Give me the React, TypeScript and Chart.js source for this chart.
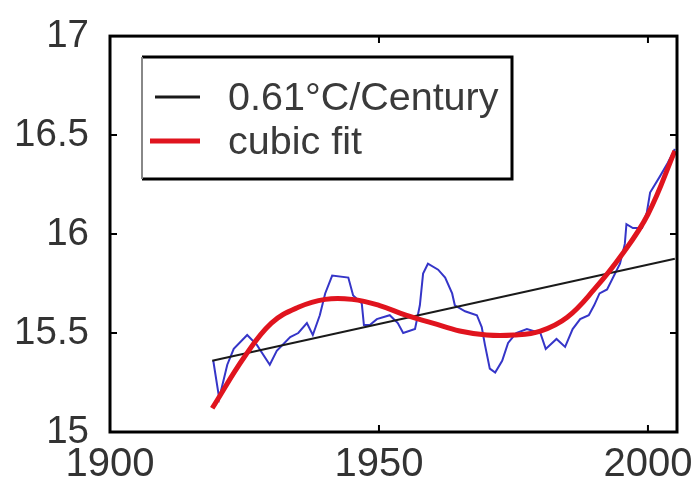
import React, { useEffect, useRef } from "react";
import { Chart, registerables } from "chart.js";

Chart.register(...registerables);

const xTickValues = [1900, 1950, 2000];
const yTickValues = [15, 15.5, 16, 16.5, 17];

const blueYears = [
  1919.2, 1920.3, 1921.8, 1923.0, 1925.5, 1927.3, 1929.7, 1931.0, 1933.5, 1935.0,
  1936.6, 1937.7, 1939.0, 1940.0, 1941.3, 1944.3, 1945.2, 1946.8, 1947.2, 1948.3,
  1949.6, 1952.0, 1953.5, 1954.5, 1956.7, 1957.6, 1958.2, 1959.1, 1961.0, 1962.3,
  1963.6, 1964.1, 1966.0, 1968.2, 1969.1, 1969.7, 1970.6, 1971.6, 1972.9, 1974.0,
  1975.5, 1977.5, 1980.0, 1981.0, 1983.0, 1984.6, 1986.0, 1987.4, 1989.0, 1990.0,
  1991.0, 1992.4, 1994.8, 1995.7, 1996.0, 1997.2, 1998.9, 1999.8, 2000.4, 2002.2,
  2003.7, 2005.0,
];
const blueTemps = [
  15.36, 15.17, 15.34, 15.42, 15.49, 15.44, 15.34, 15.41, 15.48, 15.5,
  15.55, 15.49, 15.59, 15.7, 15.79, 15.78, 15.69, 15.65, 15.54, 15.54,
  15.57, 15.59, 15.55, 15.5, 15.52, 15.64, 15.8, 15.85, 15.82, 15.78,
  15.7, 15.64, 15.61, 15.59, 15.53, 15.44, 15.32, 15.3, 15.36, 15.45,
  15.5, 15.52, 15.5, 15.42, 15.47, 15.43, 15.52, 15.57, 15.59, 15.64,
  15.7, 15.72, 15.85, 15.95, 16.05, 16.03, 16.03, 16.11, 16.21, 16.29,
  16.36, 16.43,
];

const trendLabel = "0.61\u00B0C/Century";
const trendYears = [1919, 2005];
const trendTemps = [15.36, 15.875];

const cubicLabel = "cubic fit";
const cubicYears = [
  1919, 1925, 1930, 1935, 1940, 1945, 1950, 1955, 1960, 1965, 1970, 1975,
  1980, 1985, 1990, 1995, 2000, 2005,
];
const cubicTemps = [
  15.12, 15.38, 15.55, 15.63, 15.67, 15.67, 15.64, 15.59, 15.55, 15.51, 15.49,
  15.49, 15.51, 15.58, 15.72, 15.89, 16.1, 16.42,
];

const FONT = "'Liberation Sans', Arial, sans-serif";

const framePlugin = {
  id: "frameLegend",
  afterDraw(chart: any) {
    const ctx = chart.ctx;
    const { left, right, top, bottom } = chart.chartArea;
    const xs = chart.scales.x;
    const ys = chart.scales.y;
    ctx.save();
    // frame
    ctx.strokeStyle = "#000";
    ctx.lineWidth = 3;
    ctx.strokeRect(left, top, right - left, bottom - top);
    // inner ticks
    ctx.lineWidth = 2;
    const tl = 7;
    yTickValues.slice(1, -1).forEach((v) => {
      const y = ys.getPixelForValue(v);
      ctx.beginPath();
      ctx.moveTo(left, y);
      ctx.lineTo(left + tl, y);
      ctx.moveTo(right, y);
      ctx.lineTo(right - tl, y);
      ctx.stroke();
    });
    xTickValues.slice(1).forEach((v) => {
      const x = xs.getPixelForValue(v);
      ctx.beginPath();
      ctx.moveTo(x, bottom);
      ctx.lineTo(x, bottom - tl);
      ctx.moveTo(x, top);
      ctx.lineTo(x, top + tl);
      ctx.stroke();
    });
    // legend
    const bx = left + 32;
    const by = top + 21;
    const bw = 370;
    const bh = 122;
    ctx.fillStyle = "#fff";
    ctx.fillRect(bx, by, bw, bh);
    ctx.strokeStyle = "#000";
    ctx.lineWidth = 3;
    ctx.beginPath();
    ctx.moveTo(bx, by);
    ctx.lineTo(bx + bw, by);
    ctx.lineTo(bx + bw, by + bh);
    ctx.lineTo(bx, by + bh);
    ctx.stroke();
    ctx.strokeStyle = "#888";
    ctx.lineWidth = 2;
    ctx.beginPath();
    ctx.moveTo(bx, by);
    ctx.lineTo(bx, by + bh);
    ctx.stroke();

    const ds = chart.data.datasets;
    const items = [ds[1], ds[2]];
    const rows = [by + 40, by + 84];
    items.forEach((d: any, i: number) => {
      ctx.strokeStyle = d.borderColor;
      ctx.lineWidth = i === 0 ? 3 : 5;
      ctx.beginPath();
      ctx.moveTo(bx + (i === 0 ? 13 : 8), rows[i]);
      ctx.lineTo(bx + 58, rows[i]);
      ctx.stroke();
      ctx.fillStyle = "#3a3a3a";
      ctx.font = `39.5px ${FONT}`;
      ctx.textAlign = "left";
      ctx.textBaseline = "middle";
      ctx.fillText(d.label, bx + 86, rows[i] + 2);
    });
    ctx.restore();
  },
};

export default function App() {
  const ref = useRef<HTMLCanvasElement>(null);
  useEffect(() => {
    document.body.style.margin = "0";
    const toPts = (xs: number[], ys: number[]) =>
      xs.map((x, i) => ({ x, y: ys[i] }));
    const chart = new Chart(ref.current!, {
      type: "line",
      data: {
        datasets: [
          {
            label: "data",
            data: toPts(blueYears, blueTemps),
            borderColor: "#3535c8",
            borderWidth: 2,
            pointRadius: 0,
            tension: 0,
            order: 3,
          },
          {
            label: trendLabel,
            data: toPts(trendYears, trendTemps),
            borderColor: "#1a1a1a",
            borderWidth: 2,
            pointRadius: 0,
            order: 2,
          },
          {
            label: cubicLabel,
            data: toPts(cubicYears, cubicTemps),
            borderColor: "#e0141e",
            borderWidth: 5,
            pointRadius: 0,
            tension: 0.4,
            order: 1,
          },
        ],
      },
      options: {
        animation: false,
        responsive: false,
        devicePixelRatio: 1,
        layout: { padding: { left: 0, top: 27, right: 19, bottom: 0 } },
        plugins: { legend: { display: false }, tooltip: { enabled: false } },
        scales: {
          x: {
            type: "linear",
            min: 1900,
            max: 2005.4,
            grid: { display: false },
            border: { display: false },
            afterBuildTicks: (s: any) => {
              s.ticks = xTickValues.map((v) => ({ value: v }));
            },
            afterFit: (s: any) => {
              s.height = 50;
            },
            ticks: {
              color: "#333",
              font: { family: FONT, size: 40 },
              padding: 1,
              maxRotation: 0,
              autoSkip: false,
              callback: (v: any) => String(v),
            },
          },
          y: {
            type: "linear",
            min: 15,
            max: 17,
            grid: { display: false },
            border: { display: false },
            afterBuildTicks: (s: any) => {
              s.ticks = yTickValues.map((v) => ({ value: v }));
            },
            afterFit: (s: any) => {
              s.width = 110;
            },
            ticks: {
              color: "#333",
              font: { family: FONT, size: 38.5 },
              padding: 13,
              autoSkip: false,
              callback: (v: any) => String(v),
            },
          },
        },
      },
      plugins: [framePlugin],
    });
    return () => chart.destroy();
  }, []);
  return (
    <div style={{ width: 696, height: 482, background: "#fff" }}>
      <canvas ref={ref} width={696} height={482} />
    </div>
  );
}
